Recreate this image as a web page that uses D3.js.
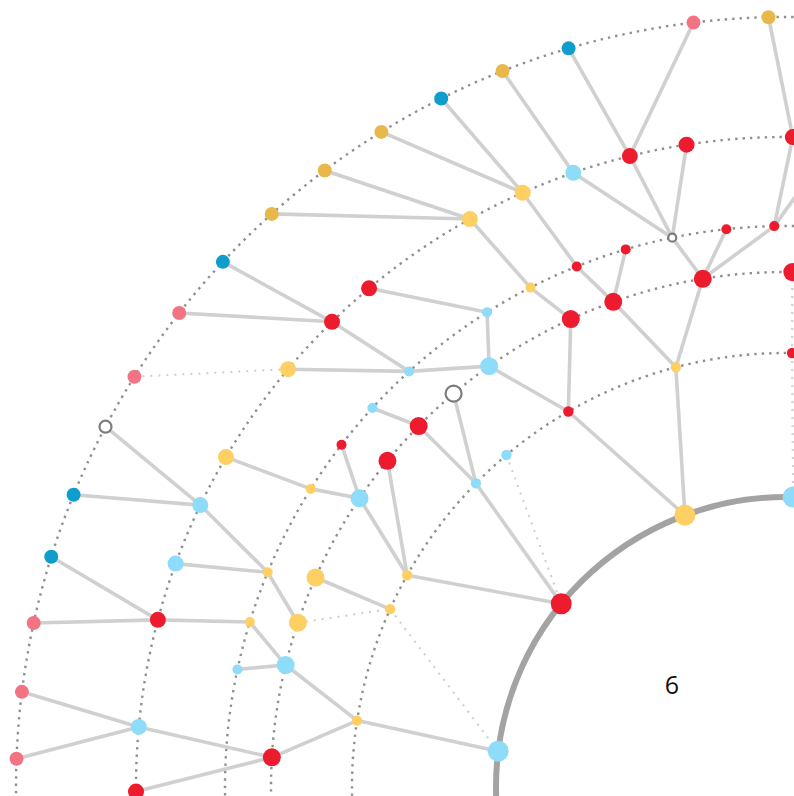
<!DOCTYPE html>
<html>
<head>
<meta charset="utf-8">
<script src="https://cdn.jsdelivr.net/npm/d3@7"></script>
<style>
  html, body { margin: 0; padding: 0; background: #fff; }
  svg { display: block; }
</style>
</head>
<body>
<div id="chart"></div>
<script>
// nodes per ring: [id, angle in degrees (0 = up, negative = to the left), kind]
var ring0 = [["a1", 1.4, "lightblue"], ["a2", -20.4, "yellow"], ["a3", -50.8, "red"], ["a4", -82.9, "lightblue"]];
var ring1 = [["b1", 0.8, "red"], ["b2", -14.7, "yellow"], ["b3", -30.1, "red"], ["b4", -40.1, "lightblue"],
             ["b5", -45.6, "lightblue"], ["b6", -60.8, "yellow"], ["b7", -65.8, "yellow"], ["b8", -81.2, "yellow"]];
var ring2 = [["c1", 0.7, "red"], ["c2", -9.3, "red"], ["c3", -19.6, "red"], ["c4", -24.7, "red"],
             ["c5", -35.2, "lightblue"], ["c6", -40.2, "hollow"], ["c7", -45.5, "red"], ["c8", -50.7, "red"],
             ["c9", -55.9, "lightblue"], ["c10", -66.0, "yellow"], ["c11", -71.4, "yellow"], ["c12", -76.3, "lightblue"],
             ["c13", -86.7, "red"]];
var ring3 = [["d1", -1.2, "red"], ["d2", -6.1, "red"], ["d3", -11.7, "hollow"], ["d4", -16.6, "red"],
             ["d5", -21.9, "red"], ["d6", -27.1, "yellow"], ["d7", -32.2, "lightblue"], ["d8", -42.2, "lightblue"],
             ["d9", -47.5, "lightblue"], ["d10", -52.4, "red"], ["d11", -57.9, "yellow"], ["d12", -67.5, "yellow"],
             ["d13", -72.9, "yellow"], ["d14", -77.9, "lightblue"]];
var ring4 = [["e0", 4.5, "red"], ["e1", 0.6, "red"], ["e2", -8.8, "red"], ["e3", -13.9, "red"], ["e4", -19.1, "lightblue"],
             ["e5", -23.9, "yellow"], ["e6", -29.1, "yellow"], ["e7", -39.9, "red"], ["e8", -44.3, "red"],
             ["e9", -50.0, "yellow"], ["e10", -59.5, "yellow"], ["e11", -64.3, "lightblue"], ["e12", -69.9, "lightblue"],
             ["e13", -75.1, "red"], ["e14", -84.7, "lightblue"], ["e15", -90.4, "red"]];
var ring5 = [["f1", -1.3, "gold"], ["f2", -6.9, "pink"], ["f3", -16.4, "blue"], ["f4", -21.6, "gold"],
             ["f5", -26.6, "blue"], ["f6", -31.7, "gold"], ["f7", -36.8, "gold"], ["f8", -41.9, "gold"],
             ["f9", -47.0, "blue"], ["f10", -52.0, "pink"], ["f11", -57.8, "pink"], ["f12", -62.1, "hollow"],
             ["f13", -67.7, "blue"], ["f14", -72.6, "blue"], ["f15", -77.7, "pink"], ["f16", -82.9, "pink"],
             ["f17", -87.9, "pink"]];

var solidLinks = [
  ["f1", "e1"], ["f2", "e3"], ["f3", "e3"], ["f4", "e4"], ["f5", "e5"], ["f6", "e5"], ["f7", "e6"], ["f8", "e6"],
  ["f9", "e8"], ["f10", "e8"], ["f12", "e11"], ["f13", "e11"], ["f14", "e13"], ["f15", "e13"], ["f16", "e14"], ["f17", "e14"],
  ["e0", "d1"], ["e1", "d1"], ["e2", "d3"], ["e3", "d3"], ["e4", "d3"], ["e5", "d5"], ["e6", "d6"], ["e7", "d7"],
  ["e8", "d8"], ["e9", "d8"], ["e10", "d11"], ["e11", "d12"], ["e12", "d12"], ["e13", "d13"], ["e14", "c13"], ["e15", "c13"],
  ["d1", "c2"], ["d2", "c2"], ["d3", "c2"], ["d4", "c3"], ["d5", "c3"], ["d6", "c4"], ["d7", "c5"], ["d8", "c5"],
  ["d9", "c7"], ["d10", "c9"], ["d11", "c9"], ["d12", "c11"], ["d13", "c12"], ["d14", "c12"],
  ["c2", "b2"], ["c3", "b2"], ["c4", "b3"], ["c5", "b3"], ["c6", "b5"], ["c7", "b5"], ["c8", "b6"], ["c9", "b6"],
  ["c10", "b7"], ["c12", "b8"], ["c13", "b8"],
  ["b2", "a2"], ["b3", "a2"], ["b5", "a3"], ["b6", "a3"], ["b8", "a4"]
];
var dottedLinks = [["f11", "e9"], ["c11", "b7"], ["b7", "a4"], ["b4", "a3"], ["c1", "b1"], ["b1", "a1"]];

var centerLabel = "6";

var width = 794, height = 796;
var cx = 786, cy = 787;

var radius = d3.scaleOrdinal().domain([0, 1, 2, 3, 4, 5]).range([290, 434, 515, 561, 650, 770]);
var angle = d3.scaleLinear().domain([-90, 90]).range([-Math.PI / 2, Math.PI / 2]);
var dotSize = d3.scaleOrdinal().domain([0, 1, 2, 3, 4, 5]).range([10.5, 5.2, 9, 5, 8, 7]);
var colour = d3.scaleOrdinal()
    .domain(["red", "yellow", "lightblue", "gold", "blue", "pink", "hollow"])
    .range(["#ec1b2e", "#fecf62", "#8edcf9", "#e8b94a", "#0e9dcc", "#f27483", "#ffffff"]);

var nodes = [];
[ring0, ring1, ring2, ring3, ring4, ring5].forEach(function(ring, level) {
    ring.forEach(function(n) {
        var p = d3.pointRadial(angle(n[1]), radius(level));
        nodes.push({ id: n[0], level: level, kind: n[2], x: cx + p[0], y: cy + p[1] });
    });
});
var byId = {};
nodes.forEach(function(n) { byId[n.id] = n; });

var svg = d3.select('#chart')
    .append('svg')
    .attr('width', width)
    .attr('height', height);

// rings
svg.append('g').selectAll('circle')
    .data([1, 2, 3, 4, 5])
    .enter().append('circle')
    .attr('cx', cx)
    .attr('cy', cy)
    .attr('r', function(d) { return radius(d); })
    .style('fill', 'none')
    .style('stroke', '#8f8f8f')
    .style('stroke-width', 2.4)
    .style('stroke-dasharray', '2.4 5');

svg.append('circle')
    .attr('cx', cx)
    .attr('cy', cy)
    .attr('r', radius(0))
    .style('fill', 'none')
    .style('stroke', '#a3a3a3')
    .style('stroke-width', 6);

// links
svg.append('g').selectAll('line')
    .data(dottedLinks)
    .enter().append('line')
    .attr('x1', function(d) { return byId[d[0]].x; })
    .attr('y1', function(d) { return byId[d[0]].y; })
    .attr('x2', function(d) { return byId[d[1]].x; })
    .attr('y2', function(d) { return byId[d[1]].y; })
    .style('stroke', '#cdcdcd')
    .style('stroke-width', 2)
    .style('stroke-dasharray', '2 6');

svg.append('g').selectAll('line')
    .data(solidLinks)
    .enter().append('line')
    .attr('x1', function(d) { return byId[d[0]].x; })
    .attr('y1', function(d) { return byId[d[0]].y; })
    .attr('x2', function(d) { return byId[d[1]].x; })
    .attr('y2', function(d) { return byId[d[1]].y; })
    .style('stroke', '#d0d0d0')
    .style('stroke-width', 3.6);

// nodes
svg.append('g').selectAll('circle')
    .data(nodes)
    .enter().append('circle')
    .attr('cx', function(d) { return d.x; })
    .attr('cy', function(d) { return d.y; })
    .attr('r', function(d) {
        var r = dotSize(d.level);
        return d.kind == 'hollow' ? r - 1 : r;
    })
    .style('fill', function(d) { return colour(d.kind); })
    .style('stroke', function(d) { return d.kind == 'hollow' ? '#7c7c7c' : 'none'; })
    .style('stroke-width', 2.2);

svg.append('text')
    .attr('x', 672)
    .attr('y', 694)
    .attr('text-anchor', 'middle')
    .style('font-family', '"Open Sans", sans-serif')
    .style('font-size', '25px')
    .style('fill', '#111')
    .text(centerLabel);
</script>
</body>
</html>
